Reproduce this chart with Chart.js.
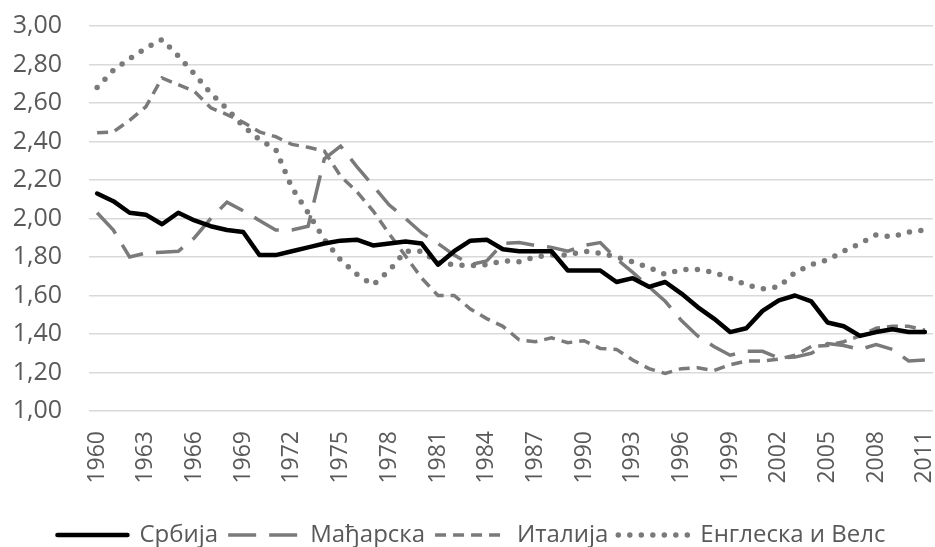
<!DOCTYPE html>
<html>
<head>
<meta charset="utf-8">
<script src="https://cdn.jsdelivr.net/npm/chart.js@4"></script>
<style>
  body { margin: 0; background: #fff; }
  #wrap { width: 935px; height: 547px; }
</style>
</head>
<body>
<div id="wrap"><canvas id="tfrChart"></canvas></div>
<script>
const years = [];
for (let y = 1960; y <= 2011; y++) years.push(String(y));

const serbia = [2.13, 2.09, 2.03, 2.02, 1.97, 2.03, 1.99, 1.96, 1.94, 1.93,
    1.81, 1.81, 1.83, 1.85, 1.87, 1.885, 1.89, 1.86, 1.87, 1.88,
    1.87, 1.76, 1.83, 1.885, 1.89, 1.84, 1.83, 1.83, 1.83, 1.73,
    1.73, 1.73, 1.67, 1.69, 1.645, 1.67, 1.61, 1.54, 1.48, 1.41,
    1.43, 1.52, 1.575, 1.60, 1.57, 1.46, 1.44, 1.39, 1.41, 1.425,
    1.41, 1.41];

const hungary = [2.03, 1.94, 1.80, 1.82, 1.825, 1.83, 1.90, 2.00, 2.085, 2.04,
    1.99, 1.94, 1.94, 1.96, 2.31, 2.376, 2.27, 2.17, 2.07, 2.00,
    1.925, 1.87, 1.81, 1.76, 1.78, 1.87, 1.875, 1.86, 1.85, 1.83,
    1.86, 1.875, 1.79, 1.72, 1.645, 1.57, 1.47, 1.39, 1.335, 1.29,
    1.31, 1.31, 1.275, 1.28, 1.30, 1.35, 1.34, 1.32, 1.345, 1.32,
    1.26, 1.265];

const italy = [2.445, 2.45, 2.51, 2.58, 2.73, 2.695, 2.66, 2.575, 2.54, 2.50,
    2.45, 2.425, 2.385, 2.37, 2.35, 2.22, 2.14, 2.04, 1.92, 1.805,
    1.69, 1.60, 1.60, 1.53, 1.48, 1.44, 1.37, 1.36, 1.38, 1.355,
    1.365, 1.325, 1.32, 1.265, 1.22, 1.195, 1.22, 1.225, 1.21, 1.24,
    1.26, 1.26, 1.27, 1.29, 1.335, 1.34, 1.36, 1.39, 1.43, 1.44,
    1.44, 1.42];

const englandWales = [2.68, 2.77, 2.83, 2.885, 2.93, 2.845, 2.75, 2.65, 2.57, 2.48,
    2.41, 2.36, 2.16, 2.03, 1.89, 1.785, 1.71, 1.655, 1.73, 1.83,
    1.83, 1.77, 1.76, 1.755, 1.76, 1.78, 1.775, 1.80, 1.81, 1.81,
    1.83, 1.82, 1.80, 1.775, 1.745, 1.71, 1.735, 1.735, 1.72, 1.69,
    1.655, 1.635, 1.645, 1.72, 1.76, 1.785, 1.83, 1.87, 1.915, 1.905,
    1.93, 1.94];

const seriesNames = ['Србија', 'Мађарска', 'Италија', 'Енглеска и Велс'];

const grey = '#7a7a7a';
const textColor = '#595959';
const font = "'Open Sans', sans-serif";

new Chart(document.getElementById('tfrChart').getContext('2d'), {
    type: 'line',
    data: {
        labels: years,
        datasets: [
            {
                label: seriesNames[0],
                data: serbia,
                borderColor: '#000',
                backgroundColor: '#000',
                borderWidth: 4.5,
                borderJoinStyle: 'round',
                borderCapStyle: 'round'
            },
            {
                label: seriesNames[1],
                data: hungary,
                borderColor: grey,
                backgroundColor: grey,
                borderWidth: 3.5,
                borderDash: [28, 13]
            },
            {
                label: seriesNames[2],
                data: italy,
                borderColor: grey,
                backgroundColor: grey,
                borderWidth: 3.5,
                borderDash: [11, 7]
            },
            {
                label: seriesNames[3],
                data: englandWales,
                borderColor: grey,
                backgroundColor: grey,
                borderWidth: 5.5,
                borderDash: [0, 11.5],
                borderCapStyle: 'round'
            }
        ]
    },
    options: {
        responsive: true,
        maintainAspectRatio: false,
        animation: false,
        elements: {
            point: { radius: 0, hoverRadius: 0 },
            line: { tension: 0 }
        },
        layout: { padding: { left: 10, right: 2, top: 26, bottom: -10 } },
        scales: {
            x: {
                offset: true,
                grid: {
                    color: 'rgba(0,0,0,0)',
                    drawOnChartArea: false,
                    drawTicks: true,
                    tickLength: 20
                },
                border: { display: false },
                ticks: {
                    autoSkip: false,
                    minRotation: 90,
                    maxRotation: 90,
                    padding: 0,
                    color: textColor,
                    font: { family: font, size: 23 },
                    callback: function (value, index) {
                        return index % 3 === 0 ? years[index] : '';
                    }
                },
                afterFit: function (scale) {
                    scale.paddingLeft = 0;
                    scale.paddingRight = 0;
                    scale.height = 102;
                }
            },
            y: {
                min: 1,
                max: 3,
                grid: { color: '#d9d9d9', lineWidth: 1.5, drawTicks: false },
                border: { display: false },
                ticks: {
                    stepSize: 0.2,
                    padding: 27,
                    color: textColor,
                    font: { family: font, size: 25 },
                    callback: function (value) {
                        return value.toFixed(2).replace('.', ',');
                    }
                },
                afterFit: function (scale) {
                    scale.width = 79;
                    scale.paddingTop = 0;
                    scale.paddingBottom = 0;
                }
            }
        },
        plugins: {
            tooltip: { enabled: false },
            legend: {
                position: 'bottom',
                labels: {
                    usePointStyle: true,
                    pointStyle: 'line',
                    pointStyleWidth: 70,
                    padding: 10,
                    color: textColor,
                    font: { family: font, size: 24 },
                    generateLabels: function (chart) {
                        const items = Chart.defaults.plugins.legend.labels.generateLabels(chart);
                        items.forEach(function (item) {
                            const ds = chart.data.datasets[item.datasetIndex];
                            item.pointStyle = 'line';
                            item.lineWidth = ds.borderWidth;
                            item.strokeStyle = ds.borderColor;
                            item.lineDash = ds.borderDash || [];
                            item.lineCap = ds.borderCapStyle || 'butt';
                        });
                        return items;
                    }
                }
            }
        }
    }
});
</script>
</body>
</html>
